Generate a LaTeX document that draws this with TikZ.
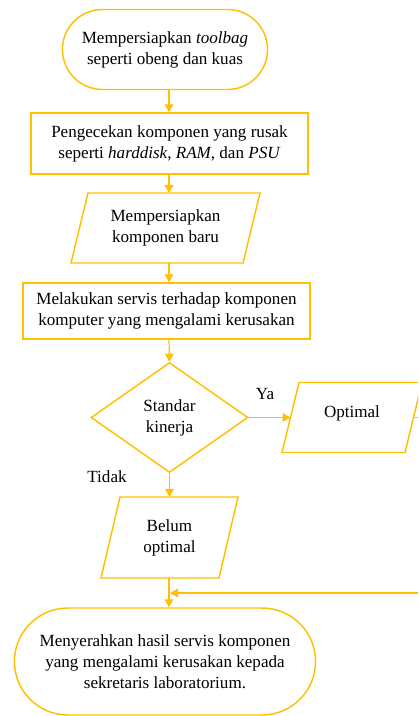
\documentclass[tikz,border=0pt]{standalone}
\usepackage{fontspec}
\setmainfont{Liberation Serif}
\usetikzlibrary{shapes.misc,shapes.geometric,arrows.meta,calc}
\definecolor{amber}{HTML}{FFC000}
\tikzset{
  txt/.style={font=\fontsize{12.8}{15.8}\selectfont, align=center, text=black},
  term/.style={txt, draw=amber, line width=1.1pt, rounded rectangle},
  procbox/.style={txt, draw=amber, line width=1.1pt, rectangle},
  parabox/.style={txt, rectangle},
  decis/.style={txt, draw=amber, line width=1.1pt, diamond},
  shapeline/.style={draw=amber, line width=1.1pt, line join=miter},
  conn/.style={draw=amber, line width=0.9pt, -{Triangle[length=6pt,width=6.5pt]}},
  lbl/.style={txt, inner sep=0pt}
}
\newcommand\drawpara[2]{%
  \draw[shapeline] ($(#1.south west)+(-#2/2,0)$) -- ($(#1.south east)+(-#2/2,0)$)
    -- ($(#1.north east)+(#2/2,0)$) -- ($(#1.north west)+(#2/2,0)$) -- cycle;}
\begin{document}
\begin{tikzpicture}[x=0.75pt, y=-0.75pt]
\useasboundingbox (0,0) rectangle (418,716);
\clip (0,0) rectangle (418,716);
\coordinate (col) at (169,0);

\node[term, minimum width={214*0.75pt}, minimum height={80*0.75pt}] (t1) at (165,49.5)
  {Mempersiapkan \textit{toolbag}\\seperti obeng dan kuas};

\node[procbox, minimum width={277*0.75pt}, minimum height={61*0.75pt}] (r2) at (169.5,143.5)
  {Pengecekan komponen yang rusak\\seperti \textit{harddisk}, \textit{RAM}, dan \textit{PSU}};

\node[parabox, minimum width={172*0.75pt}, minimum height={70*0.75pt}, inner sep=0pt, outer sep=0pt] (p3) at (165.5,228)
  {Mempersiapkan\\komponen baru};
\drawpara{p3}{17}

\node[procbox, minimum width={287*0.75pt}, minimum height={56*0.75pt}] (r4) at (166.5,311)
  {Melakukan servis terhadap komponen\\komputer yang mengalami kerusakan};

\node[decis, minimum width={157*0.75pt}, minimum height={110*0.75pt}, inner sep=0pt] (d) at (169.5,417.5)
  {Standar\\kinerja};

\node[parabox, minimum width={123*0.75pt}, minimum height={70*0.75pt}, inner sep=0pt, outer sep=0pt] (opt) at (352,417.5)
  {Optimal\\[-7pt]};
\drawpara{opt}{17}

\node[parabox, minimum width={118*0.75pt}, minimum height={81*0.75pt}, inner sep=0pt, outer sep=0pt] (b) at (169.5,537.5)
  {Belum\\optimal};
\drawpara{b}{19}

\node[term, minimum width={310*0.75pt}, minimum height={107*0.75pt}] (t2) at (165,661.5)
  {Menyerahkan hasil servis komponen\\yang mengalami kerusakan kepada\\sekretaris laboratorium.};

\node[lbl] (ya) at (265,394) {Ya};
\node[lbl] (tidak) at (107,477) {Tidak};

\coordinate (j) at (170,593);

\draw[conn] (t1.south -| col) -- (r2.north -| col);
\draw[conn] (r2.south -| col) -- (p3.north -| col);
\draw[conn] (p3.south -| col) -- (r4.north -| col);
\draw[conn] (r4.south -| col) -- (d.north);
\draw[conn] (d.east) -- (opt.west);
\draw[conn] (d.south) -- (b.north);
\draw[conn] (b.south -| col) -- (t2.north -| col);
\draw[conn] (opt.east) -- ++(40,0) |- (j);
\end{tikzpicture}
\end{document}
